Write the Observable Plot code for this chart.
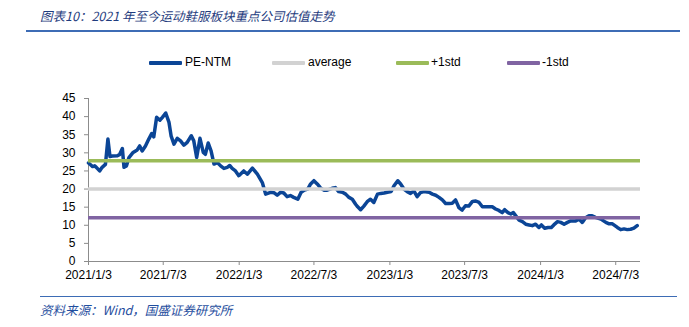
<!DOCTYPE html>
<html><head><meta charset="utf-8">
<script src="https://cdn.jsdelivr.net/npm/d3@7"></script>
<script src="https://cdn.jsdelivr.net/npm/@observablehq/plot@0.6"></script>
<style>
body{margin:0;background:#fff;width:689px;height:327px;position:relative;overflow:hidden;font-family:"Liberation Sans",Arial,sans-serif;}
#title{position:absolute;left:40px;top:6px;font:italic 12.5px "Noto Sans CJK SC";color:#1F3C7E;white-space:nowrap;}
#rule1{position:absolute;left:26px;top:30px;width:654px;height:1.5px;background:#3D6CB5;}
#legend{position:absolute;left:0;top:54px;width:689px;height:18px;font-size:12px;color:#000;}
.sw{position:absolute;top:7px;width:33px;height:3.5px;border-radius:1px;}
.lt{position:absolute;top:0;line-height:17px;}
#chart{position:absolute;left:0;top:80px;}
#rule2{position:absolute;left:40px;top:296px;width:637px;height:1.3px;background:#3D6CB5;}
#source{position:absolute;left:40px;top:300px;font:italic 12.5px "Noto Sans CJK SC";color:#1F4E9E;white-space:nowrap;}
</style>
</head><body>
<div id="title">图表10：2021 年至今运动鞋服板块重点公司估值走势</div>
<div id="rule1"></div>
<div id="legend"></div>
<div id="chart"></div>
<div id="rule2"></div>
<div id="source">资料来源：Wind，国盛证券研究所</div>
<script>
const dates = [
"2021-01-03","2021-01-08","2021-01-13","2021-01-18","2021-01-22","2021-01-30","2021-02-05","2021-02-13","2021-02-19","2021-02-24",
"2021-03-02","2021-03-14","2021-03-19","2021-03-26","2021-03-30","2021-04-05","2021-04-11","2021-04-21","2021-05-01","2021-05-07",
"2021-05-13","2021-05-21","2021-05-29","2021-06-05","2021-06-10","2021-06-17","2021-06-25","2021-07-01","2021-07-09","2021-07-17",
"2021-07-22","2021-07-29","2021-08-06","2021-08-14","2021-08-22","2021-08-30","2021-09-09","2021-09-15","2021-09-22","2021-09-30",
"2021-10-08","2021-10-13","2021-10-20","2021-10-27","2021-11-03","2021-11-11","2021-11-19","2021-11-27","2021-12-05","2021-12-11",
"2021-12-17","2021-12-25","2022-01-02","2022-01-14","2022-01-23","2022-02-04","2022-02-16","2022-02-28","2022-03-08","2022-03-20",
"2022-03-28","2022-04-05","2022-04-13","2022-04-21","2022-04-29","2022-05-07","2022-05-15","2022-05-25","2022-06-02","2022-06-10",
"2022-06-18","2022-06-25","2022-07-03","2022-07-11","2022-07-19","2022-07-27","2022-08-04","2022-08-16","2022-08-24","2022-09-01",
"2022-09-10","2022-09-18","2022-09-26","2022-10-04","2022-10-12","2022-10-17","2022-10-24","2022-11-01","2022-11-09","2022-11-17",
"2022-11-25","2022-12-04","2022-12-12","2022-12-20","2022-12-28","2023-01-06","2023-01-13","2023-01-22","2023-01-29","2023-02-06",
"2023-02-14","2023-02-22","2023-03-02","2023-03-10","2023-03-18","2023-03-26","2023-04-08","2023-04-16","2023-04-24","2023-05-02",
"2023-05-10","2023-05-18","2023-05-26","2023-06-03","2023-06-11","2023-06-19","2023-06-27","2023-07-05","2023-07-13","2023-07-22",
"2023-07-30","2023-08-07","2023-08-15","2023-08-27","2023-09-08","2023-09-16","2023-09-24","2023-10-02","2023-10-08","2023-10-16",
"2023-10-23","2023-10-29","2023-11-04","2023-11-12","2023-11-20","2023-11-28","2023-12-06","2023-12-14","2023-12-22","2023-12-30",
"2024-01-05","2024-01-13","2024-01-21","2024-01-29","2024-02-04","2024-02-13","2024-02-21","2024-02-29","2024-03-08","2024-03-16",
"2024-03-28","2024-04-05","2024-04-13","2024-04-21","2024-04-29","2024-05-07","2024-05-15","2024-05-28","2024-06-09","2024-06-17",
"2024-06-25","2024-07-07","2024-07-15","2024-07-23","2024-07-31","2024-08-08","2024-08-16","2024-08-24"
];
const peNtm = [
27.2,26.7,26.2,26.4,26.0,25.0,26.0,26.8,33.8,29.0,
29.1,29.2,29.5,31.2,26.0,26.4,28.7,30.1,30.8,31.9,
30.5,31.9,33.8,35.3,34.4,39.8,39.0,39.8,41.0,38.4,
34.7,32.4,34.0,33.3,32.1,32.9,34.7,33.3,28.7,34.0,
30.1,29.6,32.7,30.5,26.9,27.3,26.4,25.7,26.0,26.5,
25.7,25.0,23.7,25.0,24.1,25.8,24.1,21.8,18.6,19.1,
19.0,18.3,19.1,18.9,17.9,18.2,17.7,17.2,19.1,19.7,
20.0,21.4,22.3,21.4,20.3,19.7,19.7,20.2,20.4,19.3,
19.1,18.6,17.7,17.2,15.8,15.1,14.3,15.3,16.5,17.2,
16.3,18.6,18.8,18.9,19.1,19.3,20.9,22.3,21.4,20.0,
19.3,18.8,19.5,17.9,19.0,19.3,19.1,18.6,18.3,17.7,
17.0,16.0,16.0,16.1,17.0,14.9,14.2,15.4,15.3,16.6,
16.7,16.3,15.1,15.1,15.1,14.5,14.1,13.5,14.3,13.5,
13.1,13.5,12.6,11.4,11.0,10.3,10.1,9.9,10.3,9.4,
10.1,9.2,9.4,9.4,10.1,11.0,10.8,10.3,10.8,11.2,
11.2,11.7,10.8,12.1,12.6,12.6,12.2,11.7,10.8,10.4,
10.4,9.4,8.8,9.0,8.8,8.9,9.2,9.9
];
const averageValue = 20.0;
const plusStdValue = 27.8;
const minusStdValue = 12.1;
const yTicks = [0,5,10,15,20,25,30,35,40,45];
const xTickDates = ["2021-01-03","2021-07-03","2022-01-03","2022-07-03","2023-01-03","2023-07-03","2024-01-03","2024-07-03"];
const xTickLabels = ["2021/1/3","2021/7/3","2022/1/3","2022/7/3","2023/1/3","2023/7/3","2024/1/3","2024/7/3"];
const xDomain = ["2021-01-03","2024-09-01"];
const seriesNames = ["PE-NTM","average","+1std","-1std"];
const seriesColors = ["#0B4596","#D2D2D2","#9BBB59","#8064A2"];

const data = dates.map((d,i)=>({date:new Date(d), value:peNtm[i]}));
const labelMap = new Map(xTickDates.map((d,i)=>[d, xTickLabels[i]]));
const axisColor = "#8C8C8C";

const chart = Plot.plot({
  width:689, height:205,
  marginLeft:88, marginRight:49, marginTop:18, marginBottom:24,
  x:{type:"utc", domain:xDomain.map(d=>new Date(d))},
  y:{domain:[0,45]},
  style:{fontFamily:"Liberation Sans, Arial, sans-serif", fontSize:"12px", color:"#000", background:"#fff"},
  marks:[
    Plot.axisY({ticks:yTicks, tickSize:4, tickPadding:9, stroke:axisColor, fill:"#000", label:null, fontSize:12}),
    Plot.axisX({ticks:xTickDates.map(d=>new Date(d)), tickFormat:d=>labelMap.get(d.toISOString().slice(0,10)), tickSize:4, tickPadding:5, stroke:axisColor, fill:"#000", label:null, fontSize:12}),
    Plot.ruleX([new Date(xDomain[0])], {stroke:axisColor, strokeWidth:1}),
    Plot.ruleY([0], {stroke:axisColor, strokeWidth:1}),
    Plot.lineY(data, {x:"date", y:"value", stroke:seriesColors[0], strokeWidth:3.5, strokeLinejoin:"round"}),
    Plot.ruleY([averageValue], {stroke:seriesColors[1], strokeWidth:3.5}),
    Plot.ruleY([plusStdValue], {stroke:seriesColors[2], strokeWidth:3.5}),
    Plot.ruleY([minusStdValue], {stroke:seriesColors[3], strokeWidth:3.5})
  ]
});
document.getElementById("chart").appendChild(chart);

const legendPos = [[149,185],[272,308],[396,431],[507,542]];
const legend = document.getElementById("legend");
seriesNames.forEach((name,i)=>{
  const sw = document.createElement("div");
  sw.className = "sw"; sw.style.left = legendPos[i][0]+"px"; sw.style.background = seriesColors[i];
  legend.appendChild(sw);
  const t = document.createElement("div");
  t.className = "lt"; t.style.left = legendPos[i][1]+"px"; t.textContent = name;
  legend.appendChild(t);
});
</script>
</body></html>
